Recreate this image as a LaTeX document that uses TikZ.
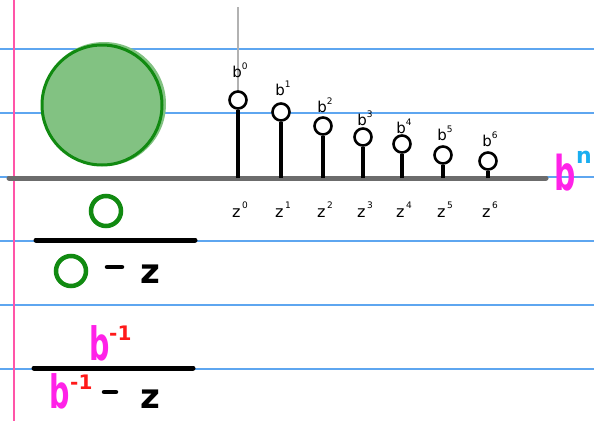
\documentclass[tikz,border=0pt]{standalone}
\usepackage{fontspec}
\usepackage{graphicx}
\setmainfont{DejaVu Sans}
\newcommand\mysup[2]{#1\raisebox{0.55em}{\fontsize{9}{9}\selectfont #2}}
\newcommand\narrowb{\scalebox{0.62}[1]{b}}
\begin{document}
\begin{tikzpicture}[x=1pt,y=-1pt,
  ruled/.style={draw=rulecol,line width=1.2},
  stemline/.style={line width=3.5,black},
  tip/.style={circle,draw=black,line width=2.6,fill=white,minimum size=17,inner sep=0},
  blab/.style={font=\fontsize{15}{15}\selectfont,inner sep=0},
  zlab/.style={font=\fontsize{16}{16}\selectfont,inner sep=0},
  fracbar/.style={line width=5,line cap=round,black},
  gring/.style={circle,draw=ggreen,line width=4.5,minimum size=30,inner sep=0},
  big/.style={font=\fontsize{34}{34}\selectfont\bfseries,inner sep=0},
  bigb/.style={font=\fontsize{46}{46}\selectfont\bfseries,text=mag,inner sep=0},
  expo/.style={font=\fontsize{20}{20}\selectfont\bfseries,text=rd,inner sep=0},
]
\definecolor{rulecol}{HTML}{5EA6F0}
\definecolor{margcol}{HTML}{FF55A8}
\definecolor{ggreen}{HTML}{118A11}
\definecolor{gfill}{HTML}{82C282}
\definecolor{mag}{HTML}{FF22E8}
\definecolor{cyn}{HTML}{1AAEF0}
\definecolor{rd}{HTML}{FF1A1A}
\useasboundingbox (0,0) rectangle (594,421);
\fill[white] (0,0) rectangle (594,421);
% ruled lines
\foreach \yy in {49,113,177,241,305,369} \draw[ruled] (0,\yy) -- (594,\yy);
\draw[margcol,line width=1.5] (14,0) -- (14,421);
% big circle
\fill[gfill] (104,104) circle (62);
\node[circle,draw=ggreen,line width=3,minimum size=120,inner sep=0] (bigc) at (102,105) {};
% axis
\coordinate (axL) at (9,178);
\coordinate (axR) at (546,178);
\draw[gray!85!black,line width=5,line cap=round] (axL) -- (axR);
% vertical gray line
\coordinate (vtop) at (238,7);
\coordinate (vbot) at (238,178);
\draw[gray!60,line width=1.5] (vtop) -- (vbot);
% stems
\foreach \i/\xx/\yy/\ly in {0/238/100/70,1/281/112/88,2/323/126/105,3/363/137/118,4/402/144/126,5/443/155/133,6/488/161/139}{
  \coordinate (s\i) at (\xx,178);
  \node[tip] (c\i) at (\xx,\yy) {};
  \draw[stemline] (s\i) -- (c\i.south);
  \node[blab] (b\i) at (\xx+2,\ly) {\mysup{b}{\i}};
  \node[zlab] (z\i) at (\xx+2,210) {\mysup{z}{\,\i}};
}
% b^n
\node[font=\fontsize{48}{48}\selectfont\bfseries,text=mag,anchor=base,inner sep=0] (bn) at (565,190) {\narrowb};
\node[font=\fontsize{22}{22}\selectfont\bfseries,text=cyn,anchor=base west,inner sep=0] (nn) at (576,163) {n};
% first fraction
\node[gring] (num1) at (106,211) {};
\coordinate (f1l) at (36,240);
\coordinate (f1r) at (195,240);
\draw[fracbar] (f1l) -- (f1r);
\node[gring] (den1) at (71,271) {};
\draw[line width=4.5,line cap=round] (107,267) coordinate (d1a) -- (122,267) coordinate (d1b);
\node[big,anchor=base] (z1) at (150,283) {z};
% second fraction
\node[bigb,anchor=base] (num2) at (100,360) {\narrowb};
\node[expo,anchor=base west] (num2e) at (109,340) {-1};
\draw[fracbar] (34,368) coordinate (f2l) -- (193,368) coordinate (f2r);
\node[bigb,anchor=base] (den2) at (60,408) {\narrowb};
\node[expo,anchor=base west] (den2e) at (70,389) {-1};
\draw[line width=4.5,line cap=round] (104,392) coordinate (d2a) -- (116,392) coordinate (d2b);
\node[big,anchor=base] (z2) at (150,408) {z};
\end{tikzpicture}
\end{document}
